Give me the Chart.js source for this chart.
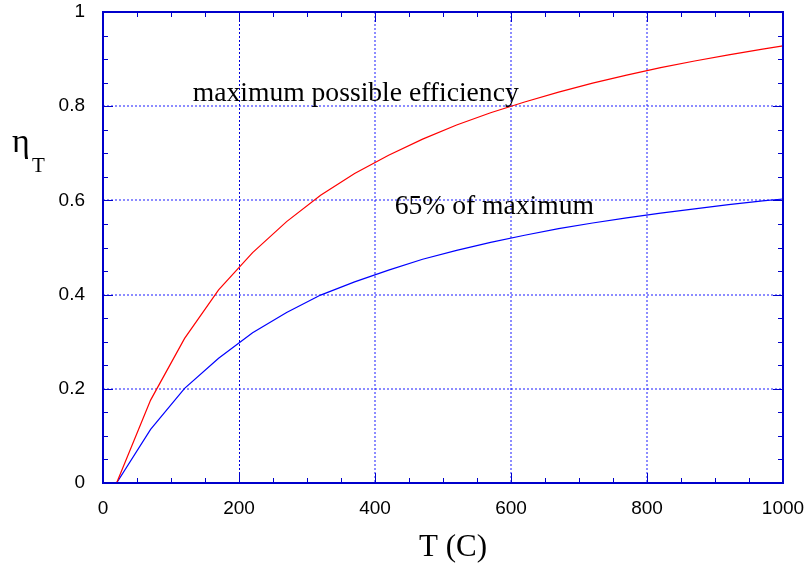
<!DOCTYPE html>
<html>
<head>
<meta charset="utf-8">
<script src="https://cdn.jsdelivr.net/npm/chart.js@4/dist/chart.umd.min.js"></script>
<style>
  html, body { margin: 0; padding: 0; background: #fff; }
  #wrap { width: 805px; height: 566px; position: relative; }
</style>
</head>
<body>
<div id="wrap"><canvas id="c"></canvas></div>
<script>
// Temperatures (C)
const temps = [20, 70, 120, 170, 220, 270, 320, 370, 420, 470, 520, 570, 620, 670, 720, 770, 820, 870, 920, 970, 1000];
// Maximum possible efficiency
const maxEff = [0, 0.176, 0.307, 0.410, 0.489, 0.555, 0.611, 0.657, 0.696, 0.730, 0.760, 0.786, 0.809, 0.830, 0.849, 0.866, 0.882, 0.896, 0.909, 0.921, 0.928];
// 65% of maximum
const pctEff = [0, 0.114, 0.201, 0.265, 0.319, 0.362, 0.399, 0.427, 0.452, 0.475, 0.494, 0.511, 0.526, 0.540, 0.552, 0.563, 0.573, 0.582, 0.591, 0.599, 0.603];
// Axis ticks
const xTicks = [0, 200, 400, 600, 800, 1000];
const xTickLabels = ['0', '200', '400', '600', '800', '1000'];
const yTicks = [0, 0.2, 0.4, 0.6, 0.8, 1];
const yTickLabels = ['0', '0.2', '0.4', '0.6', '0.8', '1'];
// Annotations
const annotations = [
  { text: 'maximum possible efficiency', x: 132, y: 0.811 },
  { text: '65% of maximum', x: 429, y: 0.571 }
];

const AXIS_BLUE = '#0000cc';
const GRID_BLUE = '#1a1aff';
const GRID_DARK = '#0000dd';

const framePlugin = {
  id: 'frame',
  beforeDatasetsDraw(chart) {
    const ctx = chart.ctx;
    const a = chart.chartArea;
    const xs = chart.scales.x, ys = chart.scales.y;
    ctx.save();
    ctx.lineWidth = 1;
    ctx.setLineDash([2, 2]);
    xTicks.forEach((v, i) => {
      if (i === 0 || i === xTicks.length - 1) return;
      const dark = (i === 1);
      const px = Math.round(xs.getPixelForValue(v)) + (dark ? 0.5 : 0);
      ctx.strokeStyle = dark ? GRID_DARK : GRID_BLUE;
      ctx.beginPath();
      ctx.moveTo(px, a.top); ctx.lineTo(px, a.bottom);
      ctx.stroke();
    });
    yTicks.forEach((v, i) => {
      if (i === 0 || i === yTicks.length - 1) return;
      const py = Math.round(ys.getPixelForValue(v));
      ctx.strokeStyle = GRID_BLUE;
      ctx.beginPath();
      ctx.moveTo(a.left, py); ctx.lineTo(a.right, py);
      ctx.stroke();
    });
    ctx.restore();
  },
  afterDatasetsDraw(chart) {
    const ctx = chart.ctx;
    const a = chart.chartArea;
    const xs = chart.scales.x, ys = chart.scales.y;
    ctx.save();
    ctx.strokeStyle = AXIS_BLUE;
    ctx.lineWidth = 1;
    ctx.beginPath();
    for (let v = 50; v < 1000; v += 50) {
      const px = Math.round(xs.getPixelForValue(v)) + 0.5;
      const len = (v % 200 === 0) ? 10 : 5;
      ctx.moveTo(px, a.bottom); ctx.lineTo(px, a.bottom - len);
      ctx.moveTo(px, a.top); ctx.lineTo(px, a.top + len);
    }
    for (let k = 1; k < 20; k++) {
      const v = k * 0.05;
      const py = Math.round(ys.getPixelForValue(v)) + 0.5;
      const len = (k % 4 === 0) ? 10 : 5;
      ctx.moveTo(a.left, py); ctx.lineTo(a.left + len, py);
      ctx.moveTo(a.right, py); ctx.lineTo(a.right - len, py);
    }
    ctx.stroke();
    ctx.lineWidth = 2;
    ctx.strokeRect(a.left, a.top, a.right - a.left, a.bottom - a.top);

    ctx.fillStyle = '#000';
    ctx.font = '27.6px "Liberation Serif", "Times New Roman", serif';
    ctx.textAlign = 'left';
    ctx.textBaseline = 'alphabetic';
    annotations.forEach(an => {
      ctx.fillText(an.text, xs.getPixelForValue(an.x), ys.getPixelForValue(an.y));
    });

    ctx.font = '31px "Liberation Serif", "Times New Roman", serif';
    ctx.textAlign = 'center';
    ctx.fillText('T (C)', (a.left + a.right) / 2 + 10, 556);

    ctx.textAlign = 'left';
    ctx.font = '34px "Liberation Serif", "Times New Roman", serif';
    ctx.fillText('η', 12, 152);
    ctx.font = '21px "Liberation Serif", "Times New Roman", serif';
    ctx.fillText('T', 32, 172);
    ctx.restore();
  }
};

function zeroPad(s) {
  s.paddingLeft = 0; s.paddingRight = 0; s.paddingTop = 0; s.paddingBottom = 0;
}

new Chart(document.getElementById('c'), {
  type: 'line',
  data: {
    datasets: [
      {
        label: 'maximum possible efficiency',
        data: temps.map((t, i) => ({ x: t, y: maxEff[i] })),
        borderColor: '#ff0000',
        borderWidth: 1.2,
        pointRadius: 0,
        tension: 0,
        fill: false
      },
      {
        label: '65% of maximum',
        data: temps.map((t, i) => ({ x: t, y: pctEff[i] })),
        borderColor: '#0000ff',
        borderWidth: 1.2,
        pointRadius: 0,
        tension: 0,
        fill: false
      }
    ]
  },
  options: {
    responsive: true,
    maintainAspectRatio: false,
    animation: false,
    layout: { padding: { top: 12, right: 22, left: 0, bottom: 0 } },
    plugins: { legend: { display: false }, tooltip: { enabled: false } },
    scales: {
      x: {
        type: 'linear',
        min: 0, max: 1000,
        afterBuildTicks: s => { s.ticks = xTicks.map(v => ({ value: v })); },
        afterFit: s => { s.height = 83; zeroPad(s); },
        ticks: {
          color: '#000',
          padding: 14,
          maxRotation: 0,
          autoSkip: false,
          callback: (v, i) => xTickLabels[i],
          font: { family: '"Liberation Sans", Arial, sans-serif', size: 19 }
        },
        grid: { display: false, drawTicks: false },
        border: { display: false }
      },
      y: {
        type: 'linear',
        min: 0, max: 1,
        afterBuildTicks: s => { s.ticks = yTicks.map(v => ({ value: v })); },
        afterFit: s => { s.width = 103; zeroPad(s); },
        ticks: {
          color: '#000',
          padding: 18,
          autoSkip: false,
          callback: (v, i) => yTickLabels[i],
          font: { family: '"Liberation Sans", Arial, sans-serif', size: 19 }
        },
        grid: { display: false, drawTicks: false },
        border: { display: false }
      }
    }
  },
  plugins: [framePlugin]
});
</script>
</body>
</html>
